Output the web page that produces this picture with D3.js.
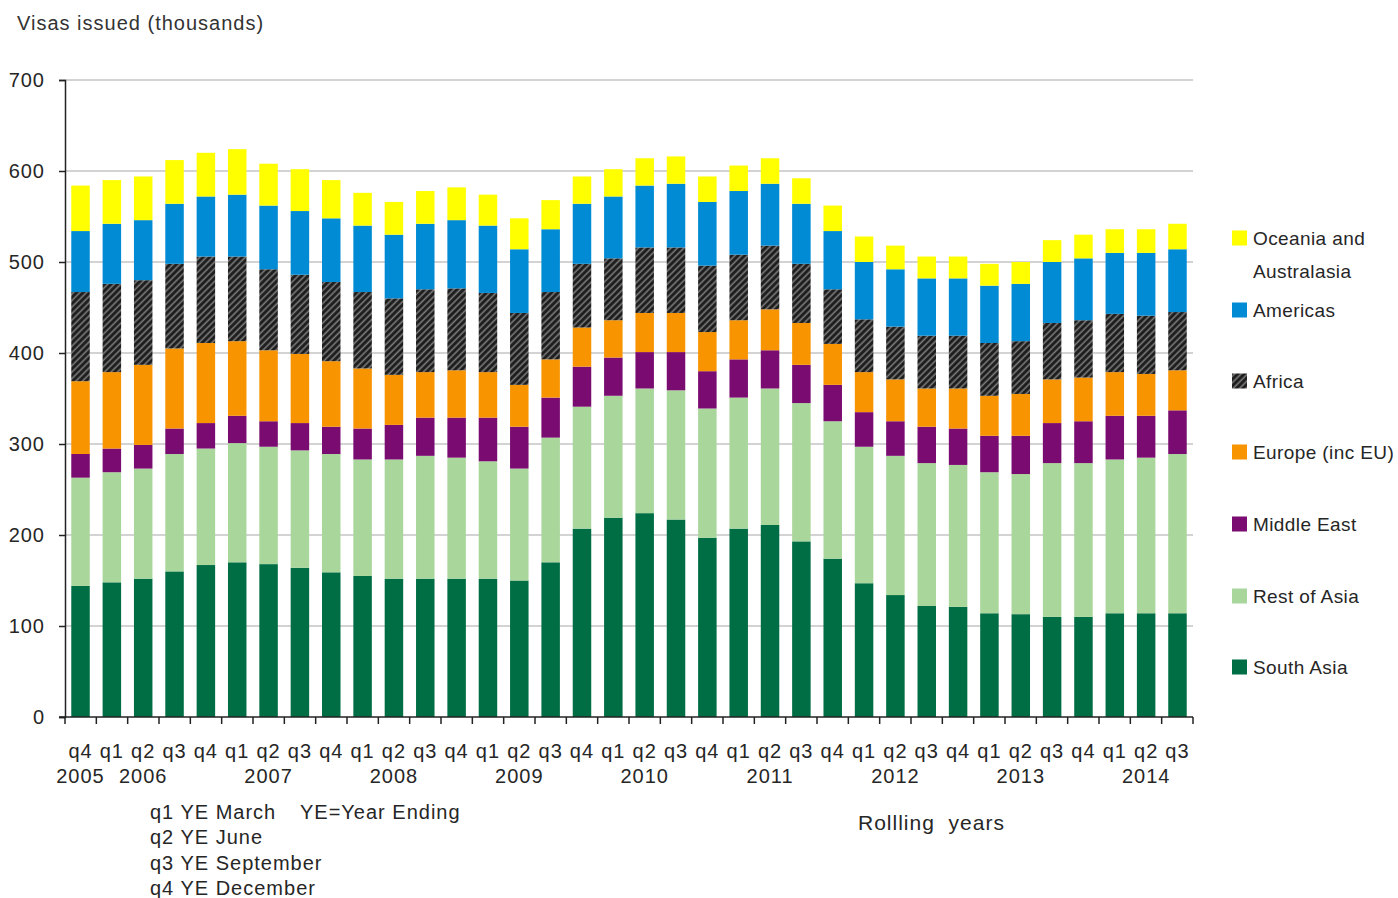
<!DOCTYPE html>
<html>
<head>
<meta charset="utf-8">
<script src="https://cdn.jsdelivr.net/npm/d3@7/dist/d3.min.js"></script>
<style>
    body { margin: 0; background: #fff; }
    svg text { font-family: "Liberation Sans", Arial, sans-serif; fill: #262626; }
</style>
</head>
<body>
<svg id="chart" width="1398" height="898"></svg>
<script>
// rolling years, q4 2005 .. q3 2014
var quarters = ["q4",
    "q1", "q2", "q3", "q4", "q1", "q2", "q3", "q4", "q1", "q2", "q3", "q4",
    "q1", "q2", "q3", "q4", "q1", "q2", "q3", "q4", "q1", "q2", "q3", "q4",
    "q1", "q2", "q3", "q4", "q1", "q2", "q3", "q4", "q1", "q2", "q3"];
var yearLabels = ["2005",
    "", "2006", "", "", "", "2007", "", "", "", "2008", "", "",
    "", "2009", "", "", "", "2010", "", "", "", "2011", "", "",
    "", "2012", "", "", "", "2013", "", "", "", "2014", ""];

// thousands of visas, bottom to top
var southAsia = [144, 148, 152, 160, 167, 170, 168, 164, 159, 155, 152, 152, 152, 152, 150, 170, 207, 219,
    224, 217, 197, 207, 211, 193, 174, 147, 134, 122, 121, 114, 113, 110, 110, 114, 114, 114];
var restOfAsia = [119, 121, 121, 129, 128, 131, 129, 129, 130, 128, 131, 135, 133, 129, 123, 137, 134, 134,
    137, 142, 142, 144, 150, 152, 151, 150, 153, 157, 156, 155, 154, 169, 169, 169, 171, 175];
var middleEast = [26, 26, 26, 28, 28, 30, 28, 30, 30, 34, 38, 42, 44, 48, 46, 44, 44, 42,
    40, 42, 41, 42, 42, 42, 40, 38, 38, 40, 40, 40, 42, 44, 46, 48, 46, 48];
var europe = [80, 84, 88, 88, 88, 82, 78, 76, 72, 66, 55, 50, 52, 50, 46, 42, 43, 41,
    43, 43, 43, 43, 45, 46, 45, 44, 46, 42, 44, 44, 46, 48, 48, 48, 46, 44];
var africa = [98, 97, 93, 93, 95, 93, 89, 87, 87, 84, 84, 91, 90, 87, 79, 74, 70, 68,
    72, 72, 73, 72, 70, 65, 60, 58, 58, 58, 58, 58, 58, 62, 63, 64, 64, 64];
var americas = [67, 66, 66, 66, 66, 68, 70, 70, 70, 73, 70, 72, 75, 74, 70, 69, 66, 68,
    68, 70, 70, 70, 68, 66, 64, 63, 63, 63, 63, 63, 63, 67, 68, 67, 69, 69];
var oceania = [50, 48, 48, 48, 48, 50, 46, 46, 42, 36, 36, 36, 36, 34, 34, 32, 30, 30,
    30, 30, 28, 28, 28, 28, 28, 28, 26, 24, 24, 24, 24, 24, 26, 26, 26, 28];

var seriesKeys = ["South Asia", "Rest of Asia", "Middle East", "Europe (inc EU)", "Africa", "Americas", "Oceania and Australasia"];
var seriesColors = ["#006e44", "#a9d69b", "#7a0b70", "#f89400", "url(#hatch)", "#008bd4", "#ffff00"];
var yTicks = [0, 100, 200, 300, 400, 500, 600, 700];
var footnotes = ["q1 YE March", "q2 YE June", "q3 YE September", "q4 YE December"];

function drawChart() {
    var rows = quarters.map(function(q, i) {
        return {
            idx: i,
            "South Asia": southAsia[i],
            "Rest of Asia": restOfAsia[i],
            "Middle East": middleEast[i],
            "Europe (inc EU)": europe[i],
            "Africa": africa[i],
            "Americas": americas[i],
            "Oceania and Australasia": oceania[i]
        };
    });

    var svg = d3.select("#chart");

    var defs = svg.append("defs");
    var hatch = defs.append("pattern")
        .attr("id", "hatch")
        .attr("patternUnits", "userSpaceOnUse")
        .attr("width", 4.6)
        .attr("height", 4.6)
        .attr("patternTransform", "rotate(45)");
    hatch.append("rect").attr("width", 4.6).attr("height", 4.6).attr("fill", "#1c1c1c");
    hatch.append("line")
        .attr("x1", 1.2).attr("y1", 0).attr("x2", 1.2).attr("y2", 4.6)
        .attr("stroke", "#7c7c7c").attr("stroke-width", 1.6);

    var plotLeft = 65, plotRight = 1193, plotTop = 80, plotBottom = 717;

    var x = d3.scaleBand()
        .domain(d3.range(quarters.length))
        .range([plotLeft, plotRight])
        .paddingInner(0.41)
        .paddingOuter(0.2);

    var y = d3.scaleLinear().domain([0, 700]).range([plotBottom, plotTop]);

    // grid
    svg.append("g")
        .selectAll("line")
        .data(yTicks.slice(1))
        .enter().append("line")
        .attr("x1", plotLeft).attr("x2", plotRight)
        .attr("y1", function(d) { return y(d); })
        .attr("y2", function(d) { return y(d); })
        .attr("stroke", "#c4c4c4")
        .attr("stroke-width", 1.5);

    // bars
    var layers = d3.stack().keys(seriesKeys)(rows);

    svg.append("g")
        .selectAll("g")
        .data(layers)
        .enter().append("g")
        .attr("fill", function(d, i) { return seriesColors[i]; })
        .selectAll("rect")
        .data(function(d) { return d; })
        .enter().append("rect")
        .attr("x", function(d) { return x(d.data.idx); })
        .attr("width", x.bandwidth())
        .attr("y", function(d) { return y(d[1]); })
        .attr("height", function(d) { return y(d[0]) - y(d[1]); });

    // y axis
    var yAxis = d3.axisLeft(y).tickValues(yTicks).tickSize(6).tickPadding(14);
    var yg = svg.append("g")
        .attr("transform", "translate(" + plotLeft + ",0)")
        .call(yAxis);
    yg.select(".domain").attr("stroke", "#222").attr("stroke-width", 1.5);
    yg.selectAll(".tick line").attr("stroke", "#222").attr("stroke-width", 1.5);
    yg.selectAll("text")
        .attr("font-size", 20)
        .attr("letter-spacing", 1)
        .style("font-family", "Liberation Sans, Arial, sans-serif")
        .attr("fill", "#262626");

    // x axis line + ticks between categories
    svg.append("line")
        .attr("x1", plotLeft - 6).attr("x2", plotRight)
        .attr("y1", plotBottom).attr("y2", plotBottom)
        .attr("stroke", "#222").attr("stroke-width", 1.5);

    var n = quarters.length;
    svg.append("g")
        .selectAll("line")
        .data(d3.range(n + 1))
        .enter().append("line")
        .attr("x1", function(i) { return plotLeft + i * (plotRight - plotLeft) / n; })
        .attr("x2", function(i) { return plotLeft + i * (plotRight - plotLeft) / n; })
        .attr("y1", plotBottom).attr("y2", plotBottom + 7)
        .attr("stroke", "#222").attr("stroke-width", 1.5);

    var xl = svg.append("g").attr("font-size", 20).attr("letter-spacing", 1);
    xl.selectAll("text.q")
        .data(quarters)
        .enter().append("text")
        .attr("class", "q")
        .attr("x", function(d, i) { return x(i) + x.bandwidth() / 2; })
        .attr("y", 758)
        .attr("text-anchor", "middle")
        .text(function(d) { return d; });
    xl.selectAll("text.yr")
        .data(yearLabels)
        .enter().append("text")
        .attr("class", "yr")
        .attr("x", function(d, i) { return x(i) + x.bandwidth() / 2; })
        .attr("y", 783)
        .attr("text-anchor", "middle")
        .text(function(d) { return d; });

    // title
    svg.append("text")
        .attr("x", 17).attr("y", 30)
        .attr("font-size", 20)
        .attr("letter-spacing", 1)
        .style("fill", "#333")
        .text("Visas issued (thousands)");

    // footnotes
    svg.append("g")
        .attr("font-size", 20).attr("letter-spacing", 1)
        .selectAll("text")
        .data(footnotes)
        .enter().append("text")
        .attr("x", 150)
        .attr("y", function(d, i) { return 819 + i * 25.4; })
        .text(function(d) { return d; });

    svg.append("text")
        .attr("x", 300).attr("y", 819)
        .attr("font-size", 20).attr("letter-spacing", 1)
        .text("YE=Year Ending");

    svg.append("text")
        .attr("x", 858).attr("y", 830)
        .attr("font-size", 21).attr("letter-spacing", 1)
        .attr("xml:space", "preserve")
        .text("Rollling  years");

    // legend, top to bottom
    var legendKeys = seriesKeys.slice().reverse();
    var legendFill = seriesColors.slice().reverse();
    var legendY = [238, 310, 381, 452, 524, 596, 667];

    var lg = svg.append("g").attr("font-size", 19).attr("letter-spacing", 0.4);
    legendKeys.forEach(function(k, i) {
        lg.append("rect")
            .attr("x", 1232).attr("y", legendY[i] - 7.5)
            .attr("width", 15).attr("height", 15)
            .attr("fill", legendFill[i]);
        if (k == "Oceania and Australasia") {
            lg.append("text").attr("x", 1253).attr("y", legendY[i] + 7).text("Oceania and");
            lg.append("text").attr("x", 1253).attr("y", legendY[i] + 40).text("Australasia");
        } else {
            lg.append("text").attr("x", 1253).attr("y", legendY[i] + 7).text(k);
        }
    });
}

drawChart();
</script>
</body>
</html>
